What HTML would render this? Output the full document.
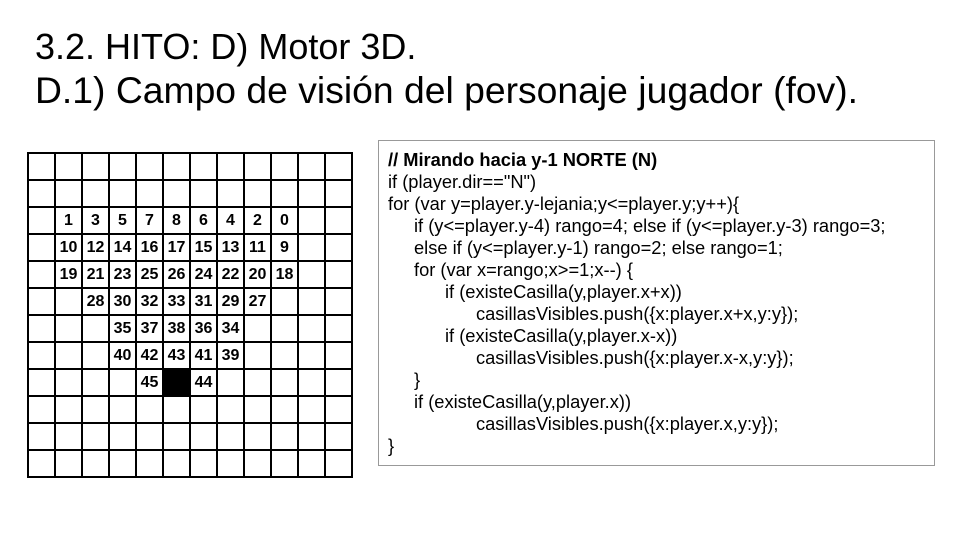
<!DOCTYPE html>
<html><head><style>
body{margin:0;width:960px;height:540px;background:#fff;position:relative;overflow:hidden;font-family:"Liberation Sans",sans-serif;}
.t{position:absolute;left:35px;font-size:37.3px;color:#000;white-space:nowrap;}
table{position:absolute;left:27px;top:152px;border-collapse:collapse;}
td{width:25px;height:25px;border:2px solid #000;padding:0;font-weight:bold;font-size:16px;text-align:center;line-height:25px;}
td.b{background:#000;}
.code{position:absolute;left:378px;top:140px;width:557px;height:326px;border:1px solid #999;box-sizing:border-box;font-size:18.3px;}
.code div{position:absolute;white-space:nowrap;line-height:22px;}
</style></head><body>
<div class="t" style="top:26px;font-size:36px">3.2. HITO: D) Motor 3D.</div>
<div class="t" style="top:69px">D.1) Campo de visión del personaje jugador (fov).</div>
<table>
<tr><td></td><td></td><td></td><td></td><td></td><td></td><td></td><td></td><td></td><td></td><td></td><td></td></tr>
<tr><td></td><td></td><td></td><td></td><td></td><td></td><td></td><td></td><td></td><td></td><td></td><td></td></tr>
<tr><td></td><td>1</td><td>3</td><td>5</td><td>7</td><td>8</td><td>6</td><td>4</td><td>2</td><td>0</td><td></td><td></td></tr>
<tr><td></td><td>10</td><td>12</td><td>14</td><td>16</td><td>17</td><td>15</td><td>13</td><td>11</td><td>9</td><td></td><td></td></tr>
<tr><td></td><td>19</td><td>21</td><td>23</td><td>25</td><td>26</td><td>24</td><td>22</td><td>20</td><td>18</td><td></td><td></td></tr>
<tr><td></td><td></td><td>28</td><td>30</td><td>32</td><td>33</td><td>31</td><td>29</td><td>27</td><td></td><td></td><td></td></tr>
<tr><td></td><td></td><td></td><td>35</td><td>37</td><td>38</td><td>36</td><td>34</td><td></td><td></td><td></td><td></td></tr>
<tr><td></td><td></td><td></td><td>40</td><td>42</td><td>43</td><td>41</td><td>39</td><td></td><td></td><td></td><td></td></tr>
<tr><td></td><td></td><td></td><td></td><td>45</td><td class="b"></td><td>44</td><td></td><td></td><td></td><td></td><td></td></tr>
<tr><td></td><td></td><td></td><td></td><td></td><td></td><td></td><td></td><td></td><td></td><td></td><td></td></tr>
<tr><td></td><td></td><td></td><td></td><td></td><td></td><td></td><td></td><td></td><td></td><td></td><td></td></tr>
<tr><td></td><td></td><td></td><td></td><td></td><td></td><td></td><td></td><td></td><td></td><td></td><td></td></tr>
</table>
<div class="code">
<div style="left:9px;top:8px;font-weight:bold">// Mirando hacia y-1 NORTE (N)</div>
<div style="left:9px;top:30px">if (player.dir=="N")</div>
<div style="left:9px;top:52px">for (var y=player.y-lejania;y&lt;=player.y;y++){</div>
<div style="left:35px;top:74px">if (y&lt;=player.y-4) rango=4; else if (y&lt;=player.y-3) rango=3;</div>
<div style="left:35px;top:96px">else if (y&lt;=player.y-1) rango=2; else rango=1;</div>
<div style="left:35px;top:118px">for (var x=rango;x&gt;=1;x--) {</div>
<div style="left:66px;top:140px">if (existeCasilla(y,player.x+x))</div>
<div style="left:97px;top:162px">casillasVisibles.push({x:player.x+x,y:y});</div>
<div style="left:66px;top:184px">if (existeCasilla(y,player.x-x))</div>
<div style="left:97px;top:206px">casillasVisibles.push({x:player.x-x,y:y});</div>
<div style="left:35px;top:228px">}</div>
<div style="left:35px;top:250px">if (existeCasilla(y,player.x))</div>
<div style="left:97px;top:272px">casillasVisibles.push({x:player.x,y:y});</div>
<div style="left:9px;top:294px">}</div>
</div>
</body></html>
